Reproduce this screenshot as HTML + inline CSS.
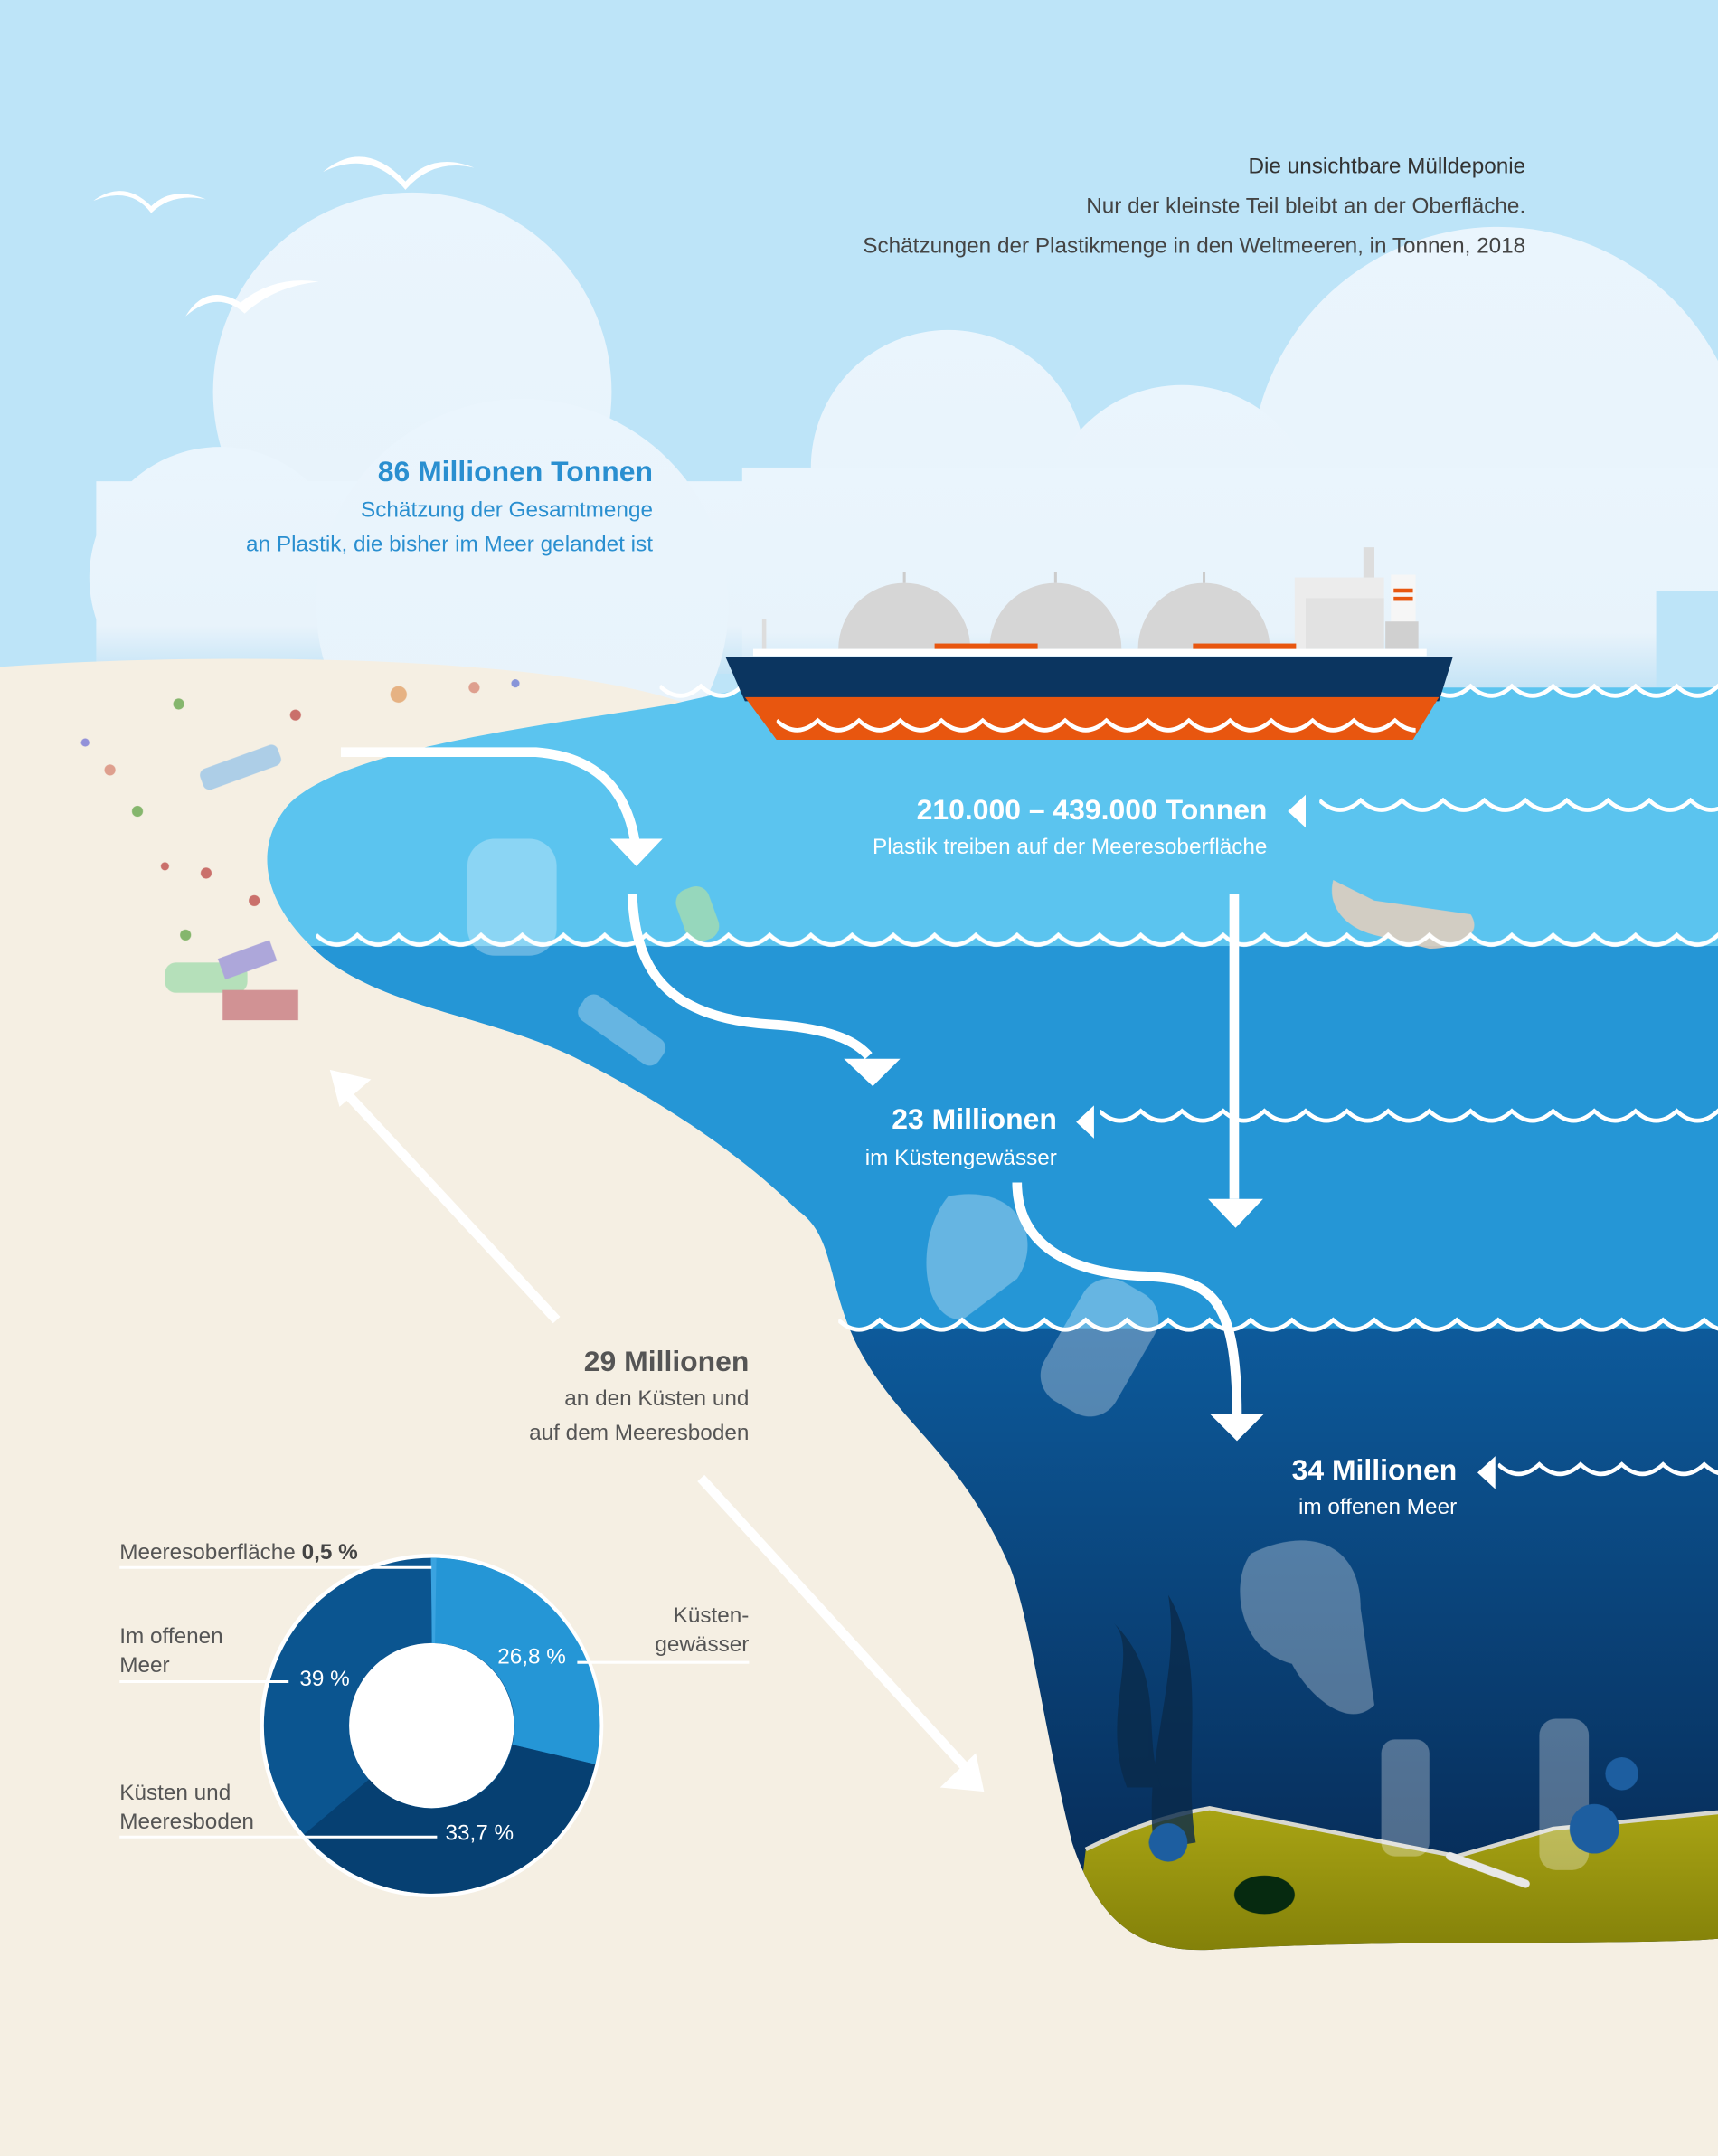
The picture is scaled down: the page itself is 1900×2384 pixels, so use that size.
<!DOCTYPE html>
<html><head><meta charset="utf-8"><style>
html,body{margin:0;padding:0;background:#f5efe3}
svg{display:block}
text{font-family:"Liberation Sans",sans-serif}
</style></head><body>
<svg width="1900" height="2384" viewBox="0 0 1250 1568" preserveAspectRatio="none" xmlns="http://www.w3.org/2000/svg" xmlns:xlink="http://www.w3.org/1999/xlink">
<defs>
<path id="wl" fill="none" stroke="#fff" stroke-width="3" d="M0 2 q15 14 30 0 q15 14 30 0 q15 14 30 0 q15 14 30 0 q15 14 30 0 q15 14 30 0 q15 14 30 0 q15 14 30 0 q15 14 30 0 q15 14 30 0 q15 14 30 0 q15 14 30 0 q15 14 30 0 q15 14 30 0 q15 14 30 0 q15 14 30 0 q15 14 30 0 q15 14 30 0 q15 14 30 0 q15 14 30 0 q15 14 30 0 q15 14 30 0 q15 14 30 0 q15 14 30 0 q15 14 30 0 q15 14 30 0 q15 14 30 0 q15 14 30 0 q15 14 30 0 q15 14 30 0 q15 14 30 0 q15 14 30 0 q15 14 30 0 q15 14 30 0 q15 14 30 0 q15 14 30 0 q15 14 30 0 q15 14 30 0 q15 14 30 0 q15 14 30 0 q15 14 30 0 q15 14 30 0"/>
<linearGradient id="deep" x1="0" y1="0" x2="0" y2="1"><stop offset="0" stop-color="#0d5a9b"/><stop offset="1" stop-color="#06264f"/></linearGradient>
<linearGradient id="cl" x1="0" y1="0" x2="0" y2="1"><stop offset="0" stop-color="#eaf5fd"/><stop offset="0.75" stop-color="#e8f3fb"/><stop offset="1" stop-color="#c5e4f6"/></linearGradient>
<linearGradient id="bed" x1="0" y1="0" x2="0" y2="1"><stop offset="0" stop-color="#a9a414"/><stop offset="1" stop-color="#7f7d08"/></linearGradient>
<clipPath id="oc"><path d="M490,512 C540,500 560,498 600,500 L1250,500 L1250,1410 C1200,1415 1000,1410 880,1418 C830,1420 800,1400 780,1340 C760,1260 750,1180 735,1140 C700,1060 660,1040 630,990 C600,940 610,900 580,880 C540,840 480,800 420,770 C360,740 290,735 240,700 C195,665 180,620 210,585 C250,545 380,530 490,512 Z"/></clipPath>
</defs>
<rect width="1250" height="1568" fill="#bde4f8"/>
<g fill="url(#cl)">
<circle cx="300" cy="285" r="145"/>
<circle cx="160" cy="420" r="95"/>
<rect x="70" y="350" width="530" height="140"/>
<circle cx="380" cy="440" r="150"/>
<circle cx="690" cy="340" r="100"/>
<circle cx="1090" cy="345" r="180"/>
<circle cx="860" cy="380" r="100"/>
<rect x="540" y="340" width="710" height="160"/>
</g>
<rect x="1205" y="430" width="45" height="75" fill="#bde4f8"/>
<g fill="#fff">
<path d="M68,146 Q90,130 110,150 Q125,135 150,145 Q125,140 110,155 Q95,135 68,146Z"/>
<path d="M235,125 Q265,100 295,132 Q315,110 345,122 Q315,115 295,138 Q270,108 235,125Z"/>
<path d="M135,230 Q150,205 175,220 Q200,200 232,205 Q200,208 178,228 Q158,210 135,230Z"/>
</g>
<path d="M0,485 C150,474 400,476 500,512 L1250,512 L1250,1568 L0,1568 Z" fill="#f5efe3"/>
<g clip-path="url(#oc)">
<rect x="0" y="490" width="1250" height="200" fill="#5bc4ef"/>
<rect x="0" y="688" width="1250" height="280" fill="#2596d6"/>
<rect x="0" y="966" width="1250" height="460" fill="url(#deep)"/>
<path d="M790,1345 C820,1330 850,1320 880,1315 L1060,1350 L1130,1330 L1250,1318 L1250,1430 L780,1430 Z" fill="url(#bed)"/>
<path d="M790,1345 C820,1330 850,1320 880,1315 L1060,1350 L1130,1330 L1250,1318" fill="none" stroke="#d8d8d0" stroke-width="3"/>
<g fill="#ffffff" opacity="0.3">
<rect x="340" y="610" width="65" height="85" rx="20"/>
<rect x="430" y="720" width="70" height="22" rx="8" transform="rotate(35 430 720)"/>
<path d="M690,870 C740,860 760,900 740,930 L700,960 C670,960 665,900 690,870Z"/>
<rect x="770" y="930" width="60" height="100" rx="22" transform="rotate(30 800 980)"/>
<path d="M910,1130 C950,1110 990,1120 990,1170 L1000,1240 C980,1260 950,1230 940,1210 C900,1200 895,1150 910,1130Z"/>
<rect x="1120" y="1250" width="36" height="110" rx="12"/>
<rect x="1005" y="1265" width="35" height="85" rx="10"/>
</g>
<g fill="#0a2a4a" opacity="0.8">
<path d="M840,1345 C830,1280 860,1220 850,1160 C880,1210 860,1280 870,1340Z"/>
<path d="M820,1300 C800,1250 830,1200 810,1180 C850,1220 830,1260 845,1300Z"/>
</g>
<g fill="#1d5ea0">
<circle cx="850" cy="1340" r="14"/><circle cx="1160" cy="1330" r="18"/><circle cx="1180" cy="1290" r="12"/>
</g>
<ellipse cx="920" cy="1378" rx="22" ry="14" fill="#062a10"/>
<path d="M1055,1350 L1110,1370" stroke="#e8e8e8" stroke-width="6" stroke-linecap="round"/>
</g>
<g opacity="0.8">
<circle cx="130" cy="512" r="4" fill="#6aa84f"/><circle cx="215" cy="520" r="4" fill="#c0504d"/>
<circle cx="290" cy="505" r="6" fill="#e3a36b"/><circle cx="345" cy="500" r="4" fill="#d98b78"/>
<circle cx="375" cy="497" r="3" fill="#6d7fd6"/><circle cx="62" cy="540" r="3" fill="#7a7ad6"/>
<circle cx="80" cy="560" r="4" fill="#d98b78"/><circle cx="100" cy="590" r="4" fill="#6aa84f"/>
<circle cx="120" cy="630" r="3" fill="#c0504d"/><circle cx="150" cy="635" r="4" fill="#c0504d"/>
<circle cx="185" cy="655" r="4" fill="#c0504d"/><circle cx="135" cy="680" r="4" fill="#6aa84f"/>
<rect x="145" y="550" width="60" height="16" rx="5" fill="#9cc6e8" transform="rotate(-20 175 558)"/>
<rect x="120" y="700" width="60" height="22" rx="8" fill="#a6dcb0"/>
<rect x="162" y="720" width="55" height="22" fill="#c87b80"/>
<rect x="160" y="690" width="40" height="16" fill="#9b95d8" transform="rotate(-20 180 698)"/>
<path d="M970,640 L1000,655 L1070,665 C1080,680 1060,690 1040,690 L1000,680 C980,675 965,660 970,640Z" fill="#f0d0b8"/>
<rect x="495" y="645" width="25" height="40" rx="10" fill="#a6dcb0" transform="rotate(-20 507 665)"/>
</g>
<svg x="480" y="497" width="70" height="16"><use xlink:href="#wl" href="#wl"/></svg>
<svg x="1040" y="497" width="210" height="16"><use xlink:href="#wl" href="#wl"/></svg>
<svg x="960" y="580" width="290" height="16"><use xlink:href="#wl" href="#wl"/></svg>
<svg x="230" y="678" width="1020" height="16"><use xlink:href="#wl" href="#wl"/></svg>
<svg x="800" y="806" width="450" height="16"><use xlink:href="#wl" href="#wl"/></svg>
<svg x="610" y="958" width="640" height="16"><use xlink:href="#wl" href="#wl"/></svg>
<svg x="1090" y="1063" width="160" height="16"><use xlink:href="#wl" href="#wl"/></svg>
<g>
<path d="M610,472 A48,48 0 0 1 706,472Z" fill="#d6d6d6"/>
<path d="M720,472 A48,48 0 0 1 816,472Z" fill="#d6d6d6"/>
<path d="M828,472 A48,48 0 0 1 924,472Z" fill="#d6d6d6"/>
<line x1="658" y1="424" x2="658" y2="416" stroke="#ccc" stroke-width="2"/>
<line x1="768" y1="424" x2="768" y2="416" stroke="#ccc" stroke-width="2"/>
<line x1="876" y1="424" x2="876" y2="416" stroke="#ccc" stroke-width="2"/>
<line x1="556" y1="472" x2="556" y2="450" stroke="#ddd" stroke-width="3"/>
<rect x="942" y="420" width="65" height="52" fill="#ececec"/>
<rect x="950" y="435" width="57" height="37" fill="#e2e2e2"/>
<rect x="992" y="398" width="8" height="22" fill="#ddd"/>
<rect x="1012" y="418" width="18" height="40" fill="#f6f6f6"/>
<rect x="1014" y="428" width="14" height="3" fill="#e8560f"/><rect x="1014" y="434" width="14" height="3" fill="#e8560f"/>
<rect x="1008" y="452" width="24" height="20" fill="#d0d0d0"/>
<rect x="680" y="468" width="75" height="6" fill="#e8560f"/>
<rect x="868" y="468" width="75" height="6" fill="#e8560f"/>
<rect x="548" y="472" width="490" height="5" fill="#fff"/>
<path d="M528,478 L1057,478 L1047,510 L542,510Z" fill="#0b3560"/>
<path d="M542,507 L1047,507 L1028,538 L565,538Z" fill="#e8560f"/>
<svg x="565" y="522" width="465" height="16"><use xlink:href="#wl" href="#wl"/></svg>
</g>
<g fill="none" stroke="#fff" stroke-width="7">
<path d="M248,547 L390,547 C430,550 455,570 462,612"/>
<path d="M460,650 C462,700 480,740 560,745 C610,748 625,760 632,768"/>
<path d="M898,650 L898,872"/>
<path d="M740,860 C740,900 770,925 830,928 C880,930 900,940 900,1030"/>
<path d="M405,960 L252,795"/>
<path d="M510,1075 L702,1285"/>
</g>
<g fill="#fff">
<path d="M444,610 L482,610 L463,630Z"/>
<path d="M614,770 L655,770 L635,790Z"/>
<path d="M879,872 L919,872 L899,893Z"/>
<path d="M880,1028 L920,1028 L900,1048Z"/>
<path d="M937,590 L950,578 L950,602Z"/>
<path d="M783,816 L796,804 L796,828Z"/>
<path d="M1075,1071 L1088,1059 L1088,1083Z"/>
<path d="M240,778 L270,785 L247,805Z"/>
<path d="M716,1303 L684,1300 L710,1275Z"/>
</g>
<g text-anchor="end">
<text x="1110" y="126" font-size="16" fill="#333">Die unsichtbare Mülldeponie</text>
<text x="1110" y="155" font-size="16" fill="#444">Nur der kleinste Teil bleibt an der Oberfläche.</text>
<text x="1110" y="184" font-size="16" fill="#444">Schätzungen der Plastikmenge in den Weltmeeren, in Tonnen, 2018</text>
<text x="475" y="350" font-size="21" font-weight="bold" fill="#2a8fd0">86 Millionen Tonnen</text>
<text x="475" y="376" font-size="16" fill="#2a8fd0">Schätzung der Gesamtmenge</text>
<text x="475" y="401" font-size="16" fill="#2a8fd0">an Plastik, die bisher im Meer gelandet ist</text>
<text x="922" y="596" font-size="21" font-weight="bold" fill="#fff">210.000 – 439.000 Tonnen</text>
<text x="922" y="621" font-size="16" fill="#fff">Plastik treiben auf der Meeresoberfläche</text>
<text x="769" y="821" font-size="21" font-weight="bold" fill="#fff">23 Millionen</text>
<text x="769" y="847" font-size="16" fill="#fff">im Küstengewässer</text>
<text x="545" y="997" font-size="21" font-weight="bold" fill="#555">29 Millionen</text>
<text x="545" y="1022" font-size="16" fill="#555">an den Küsten und</text>
<text x="545" y="1047" font-size="16" fill="#555">auf dem Meeresboden</text>
<text x="1060" y="1076" font-size="21" font-weight="bold" fill="#fff">34 Millionen</text>
<text x="1060" y="1101" font-size="16" fill="#fff">im offenen Meer</text>
<text x="545" y="1180" font-size="16" fill="#555">Küsten-</text>
<text x="545" y="1201" font-size="16" fill="#555">gewässer</text>
</g>
<circle cx="314" cy="1255" r="125" fill="#fff"/>
<g stroke-width="62" fill="none">
<circle cx="314" cy="1255" r="91" stroke="#0b5590"/>
<path d="M314,1164 A91,91 0 0 1 403,1276" stroke="#2596d6"/>
<path d="M403,1276 A91,91 0 0 1 245,1314" stroke="#064072"/>
<path d="M314,1164 A91,91 0 0 1 317,1164" stroke="#3aa3e0"/>
</g>
<circle cx="314" cy="1255" r="59" fill="#fff"/>
<g stroke="#fff" stroke-width="2">
<line x1="87" y1="1140" x2="314" y2="1140"/>
<line x1="87" y1="1223" x2="210" y2="1223"/>
<line x1="420" y1="1209" x2="545" y2="1209"/>
<line x1="87" y1="1336" x2="318" y2="1336"/>
</g>
<g font-size="16" fill="#555">
<text x="87" y="1134">Meeresoberfläche <tspan font-weight="bold" fill="#444">0,5 %</tspan></text>
<text x="87" y="1195">Im offenen</text><text x="87" y="1216">Meer</text>
<text x="87" y="1309">Küsten und</text><text x="87" y="1330">Meeresboden</text>
</g>
<g font-size="16" fill="#fff">
<text x="218" y="1226">39 %</text>
<text x="362" y="1210">26,8 %</text>
<text x="324" y="1338">33,7 %</text>
</g>
</svg>
</body></html>
